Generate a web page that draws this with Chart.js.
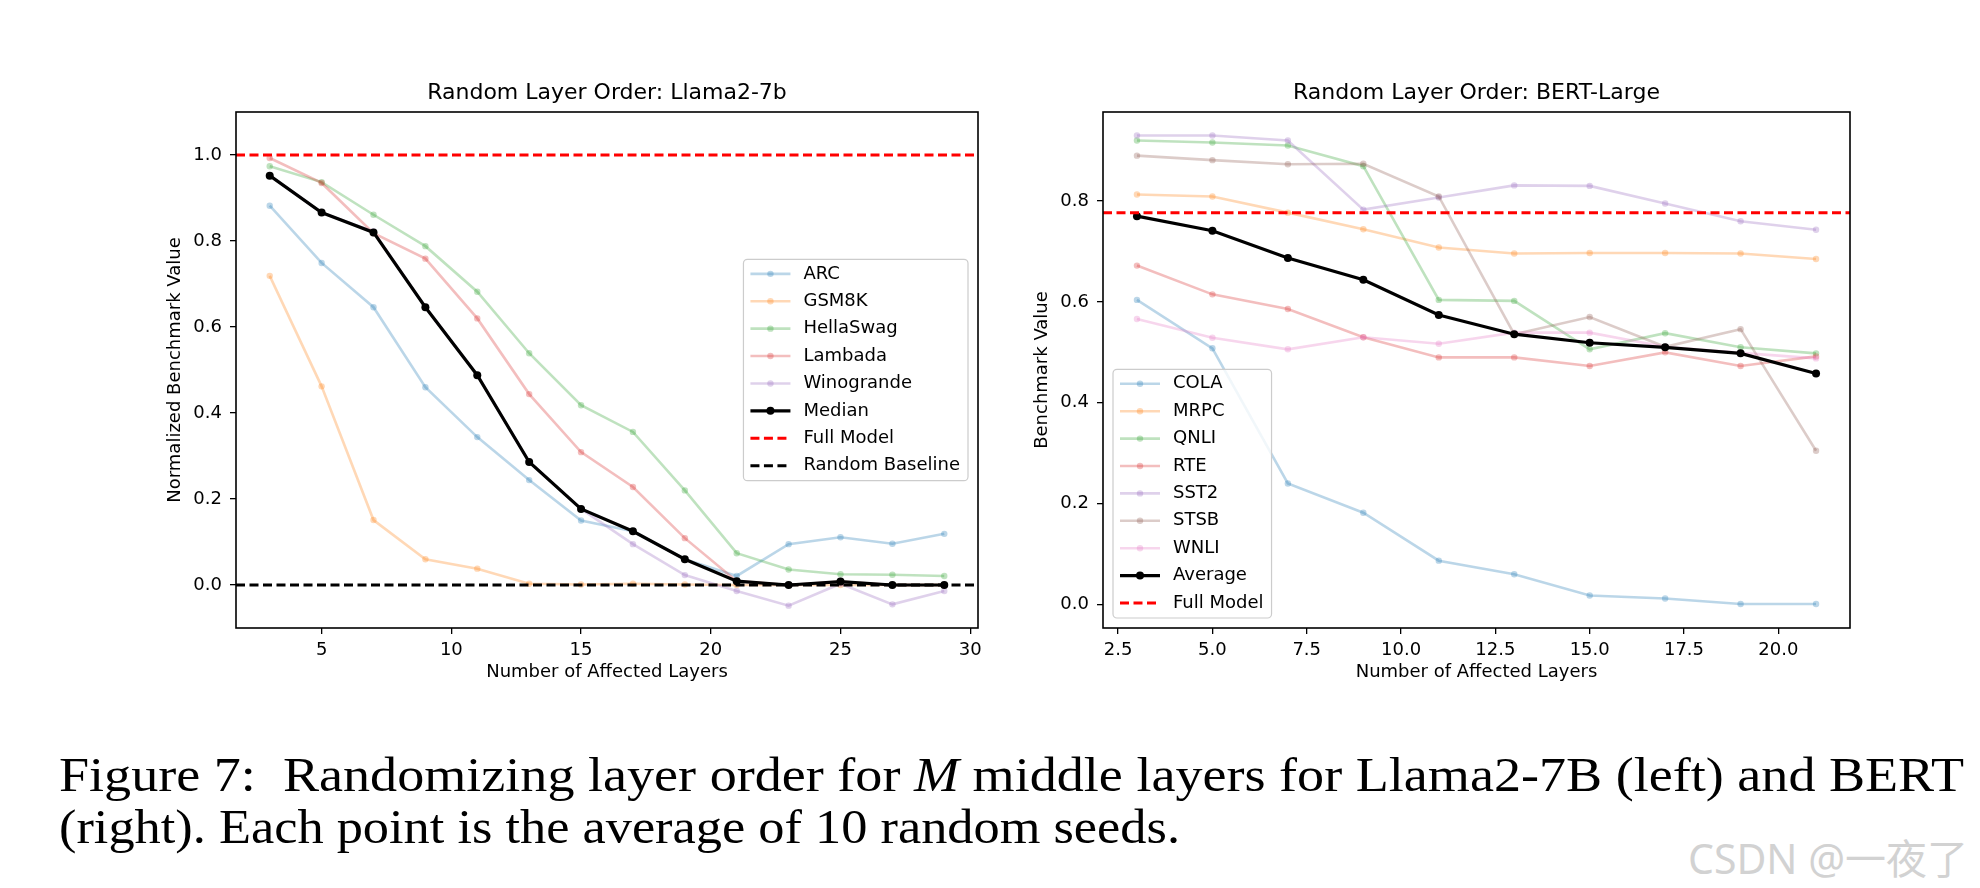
<!DOCTYPE html>
<html>
<head>
<meta charset="utf-8">
<title>Random Layer Order</title>
<script src="https://cdn.jsdelivr.net/npm/chart.js@4.4.1/dist/chart.umd.min.js"></script>
<style>
  html, body { margin: 0; padding: 0; background: #fff; }
  body { width: 1980px; height: 888px; position: relative; overflow: hidden; }
  #llamaChart { position: absolute; left: 0; top: 0; }
  #bertChart { position: absolute; left: 1000px; top: 0; }
  .caption {
    position: absolute; left: 59px;
    font-family: 'Liberation Serif', serif; font-size: 48px; line-height: 52px;
    color: #000; white-space: nowrap; transform-origin: 0 0;
  }
  #capLine1 { top: 749px; }
  #capLine2 { top: 801px; }
  #watermark {
    position: absolute; left: 1688px; top: 836px;
    font-family: 'Noto Sans', 'Noto Sans CJK SC', sans-serif; font-size: 41px; line-height: 44px;
    color: #d2d2d2; white-space: nowrap;
  }
</style>
</head>
<body>
<canvas id="llamaChart" width="1000" height="700"></canvas>
<canvas id="bertChart" width="980" height="700"></canvas>
<div class="caption" id="capLine1">Figure 7:&nbsp; Randomizing layer order for <i>M</i> middle layers for Llama2-7B (left) and BERT</div>
<div class="caption" id="capLine2">(right). Each point is the average of 10 random seeds.</div>
<div id="watermark">CSDN @一夜了</div>

<script>
// ---- Llama2-7b panel (normalized benchmark values) ----
const LLAMA_LAYERS = [3, 5, 7, 9, 11, 13, 15, 17, 19, 21, 23, 25, 27, 29];
const ARC        = [0.882, 0.749, 0.646, 0.460, 0.344, 0.244, 0.150, 0.125, 0.060, 0.021, 0.095, 0.111, 0.096, 0.119];
const GSM8K      = [0.719, 0.462, 0.151, 0.060, 0.038, 0.003, 0.001, 0.003, 0.001, 0.000, 0.000, 0.000, 0.000, 0.000];
const HELLASWAG  = [0.974, 0.937, 0.861, 0.788, 0.682, 0.539, 0.418, 0.356, 0.220, 0.074, 0.036, 0.025, 0.024, 0.021];
const LAMBADA    = [0.993, 0.935, 0.818, 0.759, 0.620, 0.444, 0.309, 0.228, 0.109, 0.009, 0.000, 0.008, 0.000, 0.000];
const WINOGRANDE = [0.952, 0.866, 0.822, 0.646, 0.488, 0.286, 0.177, 0.095, 0.023, -0.014, -0.048, 0.003, -0.045, -0.014];
const MEDIAN     = [0.952, 0.866, 0.820, 0.646, 0.488, 0.286, 0.177, 0.125, 0.060, 0.009, 0.000, 0.008, 0.000, 0.000];
const LLAMA_FULL_MODEL = 1.0;
const LLAMA_RANDOM_BASELINE = 0.0;
const LLAMA_X_TICKS = [5, 10, 15, 20, 25, 30];
const LLAMA_Y_TICKS = [0.0, 0.2, 0.4, 0.6, 0.8, 1.0];
const LLAMA_X_RANGE = [1.7, 30.3];
const LLAMA_Y_RANGE = [-0.1, 1.1];

// ---- BERT-Large panel (raw benchmark values) ----
const BERT_LAYERS = [3, 5, 7, 9, 11, 13, 15, 17, 19, 21];
const COLA    = [0.604, 0.508, 0.240, 0.182, 0.087, 0.060, 0.018, 0.012, 0.001, 0.001];
const MRPC    = [0.813, 0.809, 0.777, 0.744, 0.708, 0.696, 0.697, 0.697, 0.696, 0.685];
const QNLI    = [0.920, 0.916, 0.910, 0.869, 0.604, 0.602, 0.506, 0.538, 0.510, 0.498];
const RTE     = [0.672, 0.615, 0.586, 0.530, 0.490, 0.490, 0.473, 0.500, 0.473, 0.492];
const SST2    = [0.930, 0.930, 0.920, 0.783, 0.807, 0.831, 0.830, 0.795, 0.760, 0.743];
const STSB    = [0.890, 0.881, 0.873, 0.874, 0.809, 0.536, 0.570, 0.511, 0.546, 0.305];
const WNLI    = [0.566, 0.529, 0.506, 0.530, 0.517, 0.539, 0.539, 0.511, 0.499, 0.488];
const AVERAGE = [0.770, 0.741, 0.687, 0.644, 0.574, 0.536, 0.519, 0.510, 0.498, 0.458];
const BERT_FULL_MODEL = 0.777;
const BERT_X_TICKS = [2.5, 5.0, 7.5, 10.0, 12.5, 15.0, 17.5, 20.0];
const BERT_Y_TICKS = [0.0, 0.2, 0.4, 0.6, 0.8];
const BERT_X_RANGE = [2.1, 21.9];
const BERT_Y_RANGE = [-0.0465, 0.9765];

// matplotlib tab10 colours as rgb triplets
const TAB = {
    blue: '31,119,180', orange: '255,127,14', green: '44,160,44', red: '214,39,40',
    purple: '148,103,189', brown: '140,86,75', pink: '227,119,194'
};

Chart.defaults.font.family = "'DejaVu Sans', sans-serif";
Chart.defaults.font.size = 18;
Chart.defaults.color = '#000';

const pts = (xs, ys) => xs.map((x, i) => ({ x, y: ys[i] }));

function faintLine(label, xs, ys, rgb) {
    const c = `rgba(${rgb},0.3)`;
    return { label, data: pts(xs, ys), borderColor: c, backgroundColor: c,
             borderWidth: 2.6, pointRadius: 3.2, pointBorderWidth: 0, pointHoverRadius: 3.2 };
}
function boldLine(label, xs, ys) {
    return { label, data: pts(xs, ys), borderColor: '#000', backgroundColor: '#000',
             borderWidth: 3.2, pointRadius: 4, pointBorderWidth: 0, pointHoverRadius: 4 };
}
// horizontal reference line spanning the whole x range
function refLine(label, value, range, color) {
    return { label, data: [{ x: range[0], y: value }, { x: range[1], y: value }],
             borderColor: color, backgroundColor: color, borderWidth: 3, borderDash: [9, 4.5], pointRadius: 0 };
}
// later datasets on top, like matplotlib
const stack = sets => sets.map((d, i) => Object.assign(d, { order: sets.length - i }));

// frame around the axes + panel title centred over them
const panelFrame = {
    id: 'panelFrame',
    afterDraw(chart, args, opts) {
        const { ctx, chartArea: a } = chart;
        ctx.save();
        ctx.strokeStyle = '#000';
        ctx.lineWidth = 1.6;
        ctx.strokeRect(a.left, a.top, a.right - a.left, a.bottom - a.top);
        ctx.font = "22px 'DejaVu Sans'";
        ctx.fillStyle = '#000';
        ctx.textAlign = 'center';
        ctx.textBaseline = 'middle';
        ctx.fillText(opts.text, (a.left + a.right) / 2, a.top - 19);
        ctx.restore();
    }
};

// matplotlib-style legend drawn inside the axes
const insideLegend = {
    id: 'insideLegend',
    afterDraw(chart, args, opts) {
        const { ctx, chartArea: a } = chart;
        const sets = chart.data.datasets;
        const rowH = 27.4;
        ctx.save();
        ctx.font = "18px 'DejaVu Sans'";
        const textW = Math.max(...sets.map(d => ctx.measureText(d.label).width));
        const w = 60 + textW + 8;
        const h = (sets.length - 1) * rowH + 29.5;
        let bx, by;
        if (opts.loc === 'center right') {
            bx = a.right - 10 - w;
            by = (a.top + a.bottom) / 2 - h / 2;
        } else {
            bx = a.left + 10;
            by = a.bottom - 10 - h;
        }
        ctx.beginPath();
        if (ctx.roundRect) ctx.roundRect(bx, by, w, h, 4); else ctx.rect(bx, by, w, h);
        ctx.fillStyle = 'rgba(255,255,255,0.8)';
        ctx.fill();
        ctx.strokeStyle = '#cccccc';
        ctx.lineWidth = 1.2;
        ctx.stroke();

        sets.forEach((d, i) => {
            const y = by + 14.5 + i * rowH;
            ctx.beginPath();
            ctx.setLineDash(d.borderDash || []);
            ctx.strokeStyle = d.borderColor;
            ctx.lineWidth = d.borderWidth;
            ctx.moveTo(bx + 7, y);
            ctx.lineTo(bx + 47, y);
            ctx.stroke();
            ctx.setLineDash([]);
            if (d.pointRadius) {
                ctx.beginPath();
                ctx.arc(bx + 27, y, d.pointRadius, 0, Math.PI * 2);
                ctx.fillStyle = d.backgroundColor;
                ctx.fill();
            }
            ctx.fillStyle = '#000';
            ctx.textAlign = 'left';
            ctx.textBaseline = 'middle';
            ctx.fillText(d.label, bx + 60, y);
        });
        ctx.restore();
    }
};

function axisScales(xRange, xTicks, xFmt, yRange, yTicks, yTitle) {
    const grid = { display: true, drawOnChartArea: false, drawTicks: true, tickLength: 6, color: '#000', lineWidth: 1.3 };
    return {
        x: {
            type: 'linear', min: xRange[0], max: xRange[1],
            afterBuildTicks: s => { s.ticks = xTicks.map(v => ({ value: v })); },
            afterFit: s => { s.height = 59; },
            ticks: { callback: xFmt, padding: 6, maxRotation: 0, autoSkip: false, color: '#000' },
            grid, border: { display: false },
            title: { display: true, text: 'Number of Affected Layers', color: '#000', padding: { top: 4, bottom: 4 } }
        },
        y: {
            type: 'linear', min: yRange[0], max: yRange[1],
            afterBuildTicks: s => { s.ticks = yTicks.map(v => ({ value: v })); },
            afterFit: s => { s.width = 75; },
            ticks: { callback: v => v.toFixed(1), padding: 8, autoSkip: false, color: '#000' },
            grid, border: { display: false },
            title: { display: true, text: yTitle, color: '#000', padding: { top: 4, bottom: 4 } }
        }
    };
}

// Llama2-7b
new Chart(document.getElementById('llamaChart'), {
    type: 'line',
    data: {
        datasets: stack([
            faintLine('ARC', LLAMA_LAYERS, ARC, TAB.blue),
            faintLine('GSM8K', LLAMA_LAYERS, GSM8K, TAB.orange),
            faintLine('HellaSwag', LLAMA_LAYERS, HELLASWAG, TAB.green),
            faintLine('Lambada', LLAMA_LAYERS, LAMBADA, TAB.red),
            faintLine('Winogrande', LLAMA_LAYERS, WINOGRANDE, TAB.purple),
            boldLine('Median', LLAMA_LAYERS, MEDIAN),
            refLine('Full Model', LLAMA_FULL_MODEL, LLAMA_X_RANGE, '#ff0000'),
            refLine('Random Baseline', LLAMA_RANDOM_BASELINE, LLAMA_X_RANGE, '#000')
        ])
    },
    options: {
        responsive: false,
        animation: false,
        layout: { padding: { left: 161, top: 112, right: 22, bottom: 13 } },
        scales: axisScales(LLAMA_X_RANGE, LLAMA_X_TICKS, v => String(v),
                           LLAMA_Y_RANGE, LLAMA_Y_TICKS, 'Normalized Benchmark Value'),
        plugins: {
            legend: { display: false },
            tooltip: { enabled: false },
            panelFrame: { text: 'Random Layer Order: Llama2-7b' },
            insideLegend: { loc: 'center right' }
        }
    },
    plugins: [panelFrame, insideLegend]
});

// BERT-Large
new Chart(document.getElementById('bertChart'), {
    type: 'line',
    data: {
        datasets: stack([
            faintLine('COLA', BERT_LAYERS, COLA, TAB.blue),
            faintLine('MRPC', BERT_LAYERS, MRPC, TAB.orange),
            faintLine('QNLI', BERT_LAYERS, QNLI, TAB.green),
            faintLine('RTE', BERT_LAYERS, RTE, TAB.red),
            faintLine('SST2', BERT_LAYERS, SST2, TAB.purple),
            faintLine('STSB', BERT_LAYERS, STSB, TAB.brown),
            faintLine('WNLI', BERT_LAYERS, WNLI, TAB.pink),
            boldLine('Average', BERT_LAYERS, AVERAGE),
            refLine('Full Model', BERT_FULL_MODEL, BERT_X_RANGE, '#ff0000')
        ])
    },
    options: {
        responsive: false,
        animation: false,
        layout: { padding: { left: 28, top: 112, right: 130, bottom: 13 } },
        scales: axisScales(BERT_X_RANGE, BERT_X_TICKS, v => v.toFixed(1),
                           BERT_Y_RANGE, BERT_Y_TICKS, 'Benchmark Value'),
        plugins: {
            legend: { display: false },
            tooltip: { enabled: false },
            panelFrame: { text: 'Random Layer Order: BERT-Large' },
            insideLegend: { loc: 'lower left' }
        }
    },
    plugins: [panelFrame, insideLegend]
});

// stretch each caption line to the width it has in the figure
[['capLine1', 1905], ['capLine2', 1121]].forEach(([id, target]) => {
    const el = document.getElementById(id);
    el.style.transform = `scaleX(${target / el.getBoundingClientRect().width})`;
});
</script>
</body>
</html>
